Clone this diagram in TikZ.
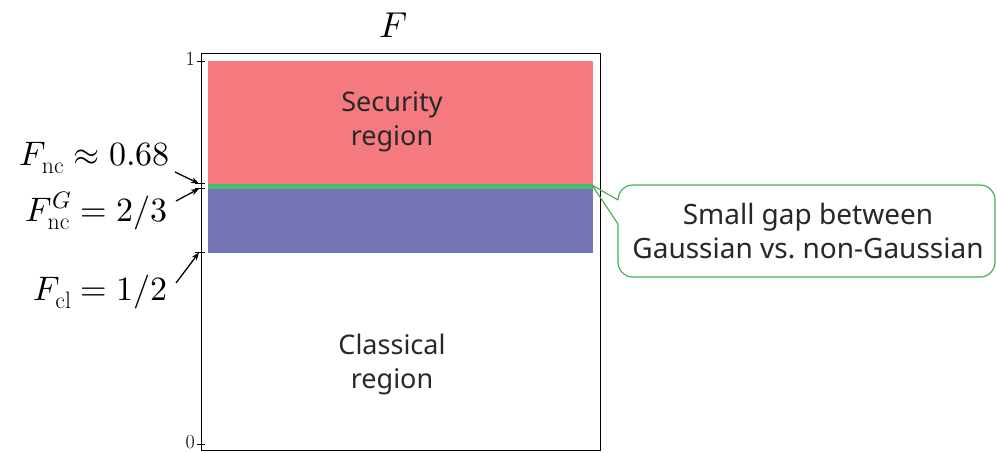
\documentclass[tikz,border=0pt]{standalone}
\usepackage{fontspec}
\usepackage{unicode-math}
\setmathfont{Latin Modern Math}
\setsansfont{Noto Sans}
\usetikzlibrary{arrows.meta}
\definecolor{secred}{RGB}{244,122,127}
\definecolor{gblue}{RGB}{117,116,182}
\definecolor{gapgreen}{RGB}{76,184,112}
\definecolor{callg}{RGB}{72,176,80}
\definecolor{txtgray}{RGB}{40,40,40}
\tikzset{
  lbl/.style={font=\fontsize{34}{38}\selectfont, anchor=base east, inner sep=0pt},
  ptr/.style={-{Stealth[length=8pt,width=6pt]}, line width=1.3pt},
  regtext/.style={font=\sffamily\fontsize{27}{34}\selectfont, text=txtgray, align=center},
  calltext/.style={font=\sffamily\fontsize{28}{34}\selectfont, text=txtgray, align=center},
  ticklab/.style={font=\fontsize{20}{22}\selectfont, anchor=east, inner sep=1pt}
}
\begin{document}
\begin{tikzpicture}[x=1pt,y=-1pt]
\useasboundingbox (0,0) rectangle (997,453);
% regions
\fill[secred] (208,61) rectangle (593,183.6);
\fill[gapgreen] (208,183.6) rectangle (593,188.7);
\fill[gblue] (208,188.7) rectangle (593,252.5);
% frame
\draw[line width=1pt] (201,53) rectangle (600,450);
% ticks
\draw[line width=0.8pt] (197,61) -- (205,61);
\draw[line width=0.8pt] (197,444) -- (205,444);
\draw[line width=0.8pt] (195,183.6) -- (205,183.6);
\draw[line width=0.8pt] (195,188.7) -- (205,188.7);
\draw[line width=0.8pt] (195,252.5) -- (205,252.5);
\coordinate (a1) at (199,183.6);
\coordinate (a2) at (199,188.7);
\coordinate (a3) at (199,252.5);
\node[ticklab] (one) at (196,59) {1};
\node[ticklab] (zero) at (196,442) {0};
% title
\node[font=\fontsize{36}{40}\selectfont, anchor=base] (title) at (393,37) {$F$};
% region labels
\node[regtext] (sec) at (392,122) {Security\\region};
\node[regtext] (cla) at (392,364) {Classical\\region};
% left labels
\node[lbl] (lnc) at (170,165) {$F_{\mathrm{nc}}\approx 0.68$};
\node[lbl] (lg) at (168,221) {$F^{G}_{\mathrm{nc}}=2/3$};
\node[lbl] (lcl) at (168,300) {$F_{\mathrm{cl}}=1/2$};
\draw[ptr] (175,172) -- (a1);
\draw[ptr] (176,201) -- (a2);
\draw[ptr] (176,283) -- (a3);
% callout
\coordinate (tip) at (592,185);
\draw[callg, line width=1.2pt, fill=white, rounded corners=15pt]
  (618,200) -- (618,185) -- (995,185) -- (995,277) -- (618,277) -- (618,224);
\draw[callg, line width=1.2pt, line join=round] (618,200) -- (tip) -- (618,224);
\node[calltext] (call) at (808,231) {Small gap between\\Gaussian vs.\ non-Gaussian};
\end{tikzpicture}
\end{document}
